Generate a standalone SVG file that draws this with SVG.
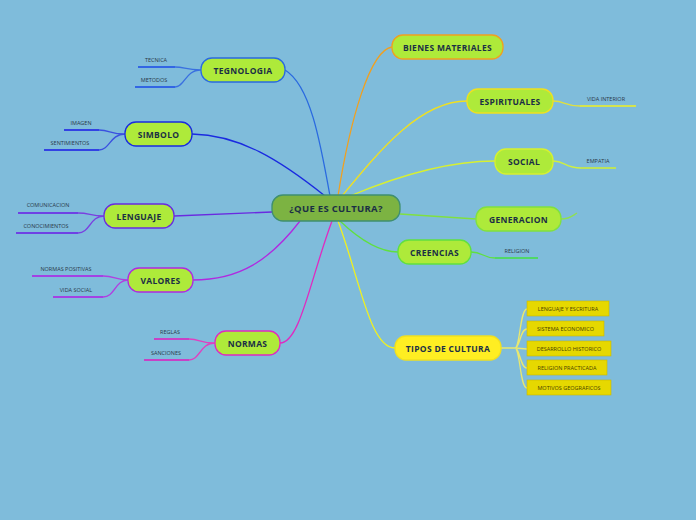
<svg xmlns="http://www.w3.org/2000/svg" width="696" height="520" viewBox="0 0 696 520">
<style>
.n{stroke-width:1.3}
.t{font-family:"Open Sans","DejaVu Sans",sans-serif;font-weight:bold;font-size:8.5px;fill:#1b2f45;text-anchor:middle;dominant-baseline:central;letter-spacing:0.3px}
.l{font-family:"Open Sans","DejaVu Sans",sans-serif;font-size:5.5px;fill:#2a3a4a;text-anchor:middle}
.b{font-family:"Open Sans","DejaVu Sans",sans-serif;font-size:5.5px;fill:#4a4300;text-anchor:middle;dominant-baseline:central}
.c{fill:none;stroke-width:1.3}
.u{fill:none;stroke-width:1.6}
</style>
<rect width="696" height="520" fill="#7fbcdb"/>
<g id="connectors">
<path class="c" stroke="#2a6ae0" d="M330 196 C320 140 310 85 285 70"/>
<path class="c" stroke="#1a2ae0" d="M325 196 C280 160 240 135 192 134"/>
<path class="c" stroke="#6a2ae0" d="M272 212 L174 216"/>
<path class="c" stroke="#b02ae0" d="M300 221 C270 260 240 280 193 280"/>
<path class="c" stroke="#e02ac0" d="M332 221 C310 280 300 343 280 343"/>
<path class="c" stroke="#f0a020" d="M338 196 C350 120 370 50 392 47"/>
<path class="c" stroke="#f0e020" d="M342 196 C380 150 420 101 467 101"/>
<path class="c" stroke="#d8f030" d="M350 196 C400 175 450 161 495 161"/>
<path class="c" stroke="#80e040" d="M400 214 L476 219"/>
<path class="c" stroke="#60e040" d="M340 221 C360 240 380 252 398 252"/>
<path class="c" stroke="#f0f020" d="M338 221 C360 280 370 348 395 348"/>
<path class="c" stroke="#3a70e0" d="M201 70 C185 70 185 67 175 67 M201 70 C185 70 185 87 175 87"/>
<path class="c" stroke="#3a50e0" d="M125 134 C110 134 110 130 99 130 M125 134 C110 134 110 150 99 150"/>
<path class="c" stroke="#7a40e0" d="M104 216 C90 216 90 213 78 213 M104 216 C90 216 90 233 78 233"/>
<path class="c" stroke="#b040e0" d="M128 280 C115 280 115 276 103 276 M128 280 C115 280 115 297 103 297"/>
<path class="c" stroke="#e040c0" d="M215 343 C200 343 200 339 189 339 M215 343 C200 343 200 360 189 360"/>
<path class="c" stroke="#e0e040" d="M553 101 C565 101 565 106 580 106"/>
<path class="c" stroke="#d0f040" d="M553 161 C565 161 565 168 581 168"/>
<path class="c" stroke="#90e050" d="M561 219 C570 219 572 216 577 213"/>
<path class="c" stroke="#60e040" d="M471 252 C483 252 483 258 495 258"/>
<path class="c" stroke="#e8e870" d="M501 348 L515 348 M515 348 C520 348 520 309 527 309 M515 348 C520 348 520 329 527 329 M515 348 L527 349 M515 348 C520 348 520 368 527 368 M515 348 C520 348 520 388 527 388"/>
<path class="u" stroke="#1a4ae8" d="M138 67 H175 M135 87 H175"/>
<path class="u" stroke="#1a1ae8" d="M64 130 H99 M44 150 H99"/>
<path class="u" stroke="#6a1ae8" d="M18 213 H78 M16 233 H78"/>
<path class="u" stroke="#b01ae8" d="M32 276 H103 M53 297 H103"/>
<path class="u" stroke="#e01ac0" d="M154 339 H189 M144 360 H189"/>
<path class="u" stroke="#f0f020" d="M580 106 H636"/>
<path class="u" stroke="#d0f030" d="M581 168 H616"/>
<path class="u" stroke="#40e040" d="M495 258 H538"/>
</g>
<g id="center"><rect class="n" x="272" y="195" width="128" height="26" rx="11" fill="#7cb342" stroke="#3f8f6f"/><text class="t" x="336" y="208" style="font-size:9.5px">¿QUE ES CULTURA?</text></g>
<g id="tegnologia"><rect class="n" x="201" y="58" width="84" height="24" rx="11" fill="#aeea3a" stroke="#2a6ae0"/><text class="t" x="243" y="70">TEGNOLOGIA</text></g>
<g id="simbolo"><rect class="n" x="125" y="122" width="67" height="24" rx="11" fill="#aeea3a" stroke="#1a2ae0"/><text class="t" x="158.5" y="134">SIMBOLO</text></g>
<g id="lenguaje"><rect class="n" x="104" y="204" width="70" height="24" rx="11" fill="#aeea3a" stroke="#6a2ae0"/><text class="t" x="139" y="216">LENGUAJE</text></g>
<g id="valores"><rect class="n" x="128" y="268" width="65" height="24" rx="11" fill="#aeea3a" stroke="#b02ae0"/><text class="t" x="160.5" y="280">VALORES</text></g>
<g id="normas"><rect class="n" x="215" y="331" width="65" height="24" rx="11" fill="#aeea3a" stroke="#e02ac0"/><text class="t" x="247.5" y="343">NORMAS</text></g>
<g id="bienes"><rect class="n" x="392" y="35" width="111" height="24" rx="11" fill="#aeea3a" stroke="#f0a020"/><text class="t" x="447.5" y="47">BIENES MATERIALES</text></g>
<g id="espirituales"><rect class="n" x="467" y="89" width="86" height="24" rx="11" fill="#aeea3a" stroke="#f0e020"/><text class="t" x="510" y="101">ESPIRITUALES</text></g>
<g id="social"><rect class="n" x="495" y="149" width="58" height="25" rx="11" fill="#aeea3a" stroke="#d8f030"/><text class="t" x="524" y="161.5">SOCIAL</text></g>
<g id="generacion"><rect class="n" x="476" y="207" width="85" height="24" rx="11" fill="#aeea3a" stroke="#80e040"/><text class="t" x="518.5" y="219">GENERACION</text></g>
<g id="creencias"><rect class="n" x="398" y="240" width="73" height="24" rx="11" fill="#aeea3a" stroke="#60e040"/><text class="t" x="434.5" y="252">CREENCIAS</text></g>
<g id="tipos"><rect class="n" x="395" y="336" width="106" height="24" rx="11" fill="#ffee22" stroke="#f0e020"/><text class="t" x="448" y="348">TIPOS DE CULTURA</text></g>
<g id="leaves">
<text class="l" x="156" y="62">TECNICA</text>
<text class="l" x="154" y="82">METODOS</text>
<text class="l" x="81" y="125">IMAGEN</text>
<text class="l" x="70" y="145">SENTIMIENTOS</text>
<text class="l" x="48" y="207">COMUNICACION</text>
<text class="l" x="46" y="228">CONOCIMIENTOS</text>
<text class="l" x="66" y="271">NORMAS POSITIVAS</text>
<text class="l" x="76" y="292">VIDA SOCIAL</text>
<text class="l" x="170" y="334">REGLAS</text>
<text class="l" x="166" y="355">SANCIONES</text>
<text class="l" x="606" y="101">VIDA INTERIOR</text>
<text class="l" x="598" y="163">EMPATIA</text>
<text class="l" x="517" y="253">RELIGION</text>
</g>
<g id="tipos-boxes" fill="#e6d800" stroke="#c8b800" stroke-width="0.6">
<rect x="527" y="301" width="82" height="15"/><text class="b" x="568" y="308.5" stroke="none">LENGUAJE Y ESCRITURA</text>
<rect x="527" y="321" width="77" height="15"/><text class="b" x="565.5" y="328.5" stroke="none">SISTEMA ECONOMICO</text>
<rect x="527" y="341" width="84" height="15"/><text class="b" x="569" y="348.5" stroke="none">DESARROLLO HISTORICO</text>
<rect x="527" y="360" width="80" height="15"/><text class="b" x="567" y="367.5" stroke="none">RELIGION PRACTICADA</text>
<rect x="527" y="380" width="84" height="15"/><text class="b" x="569" y="387.5" stroke="none">MOTIVOS GEOGRAFICOS</text>
</g>
</svg>
